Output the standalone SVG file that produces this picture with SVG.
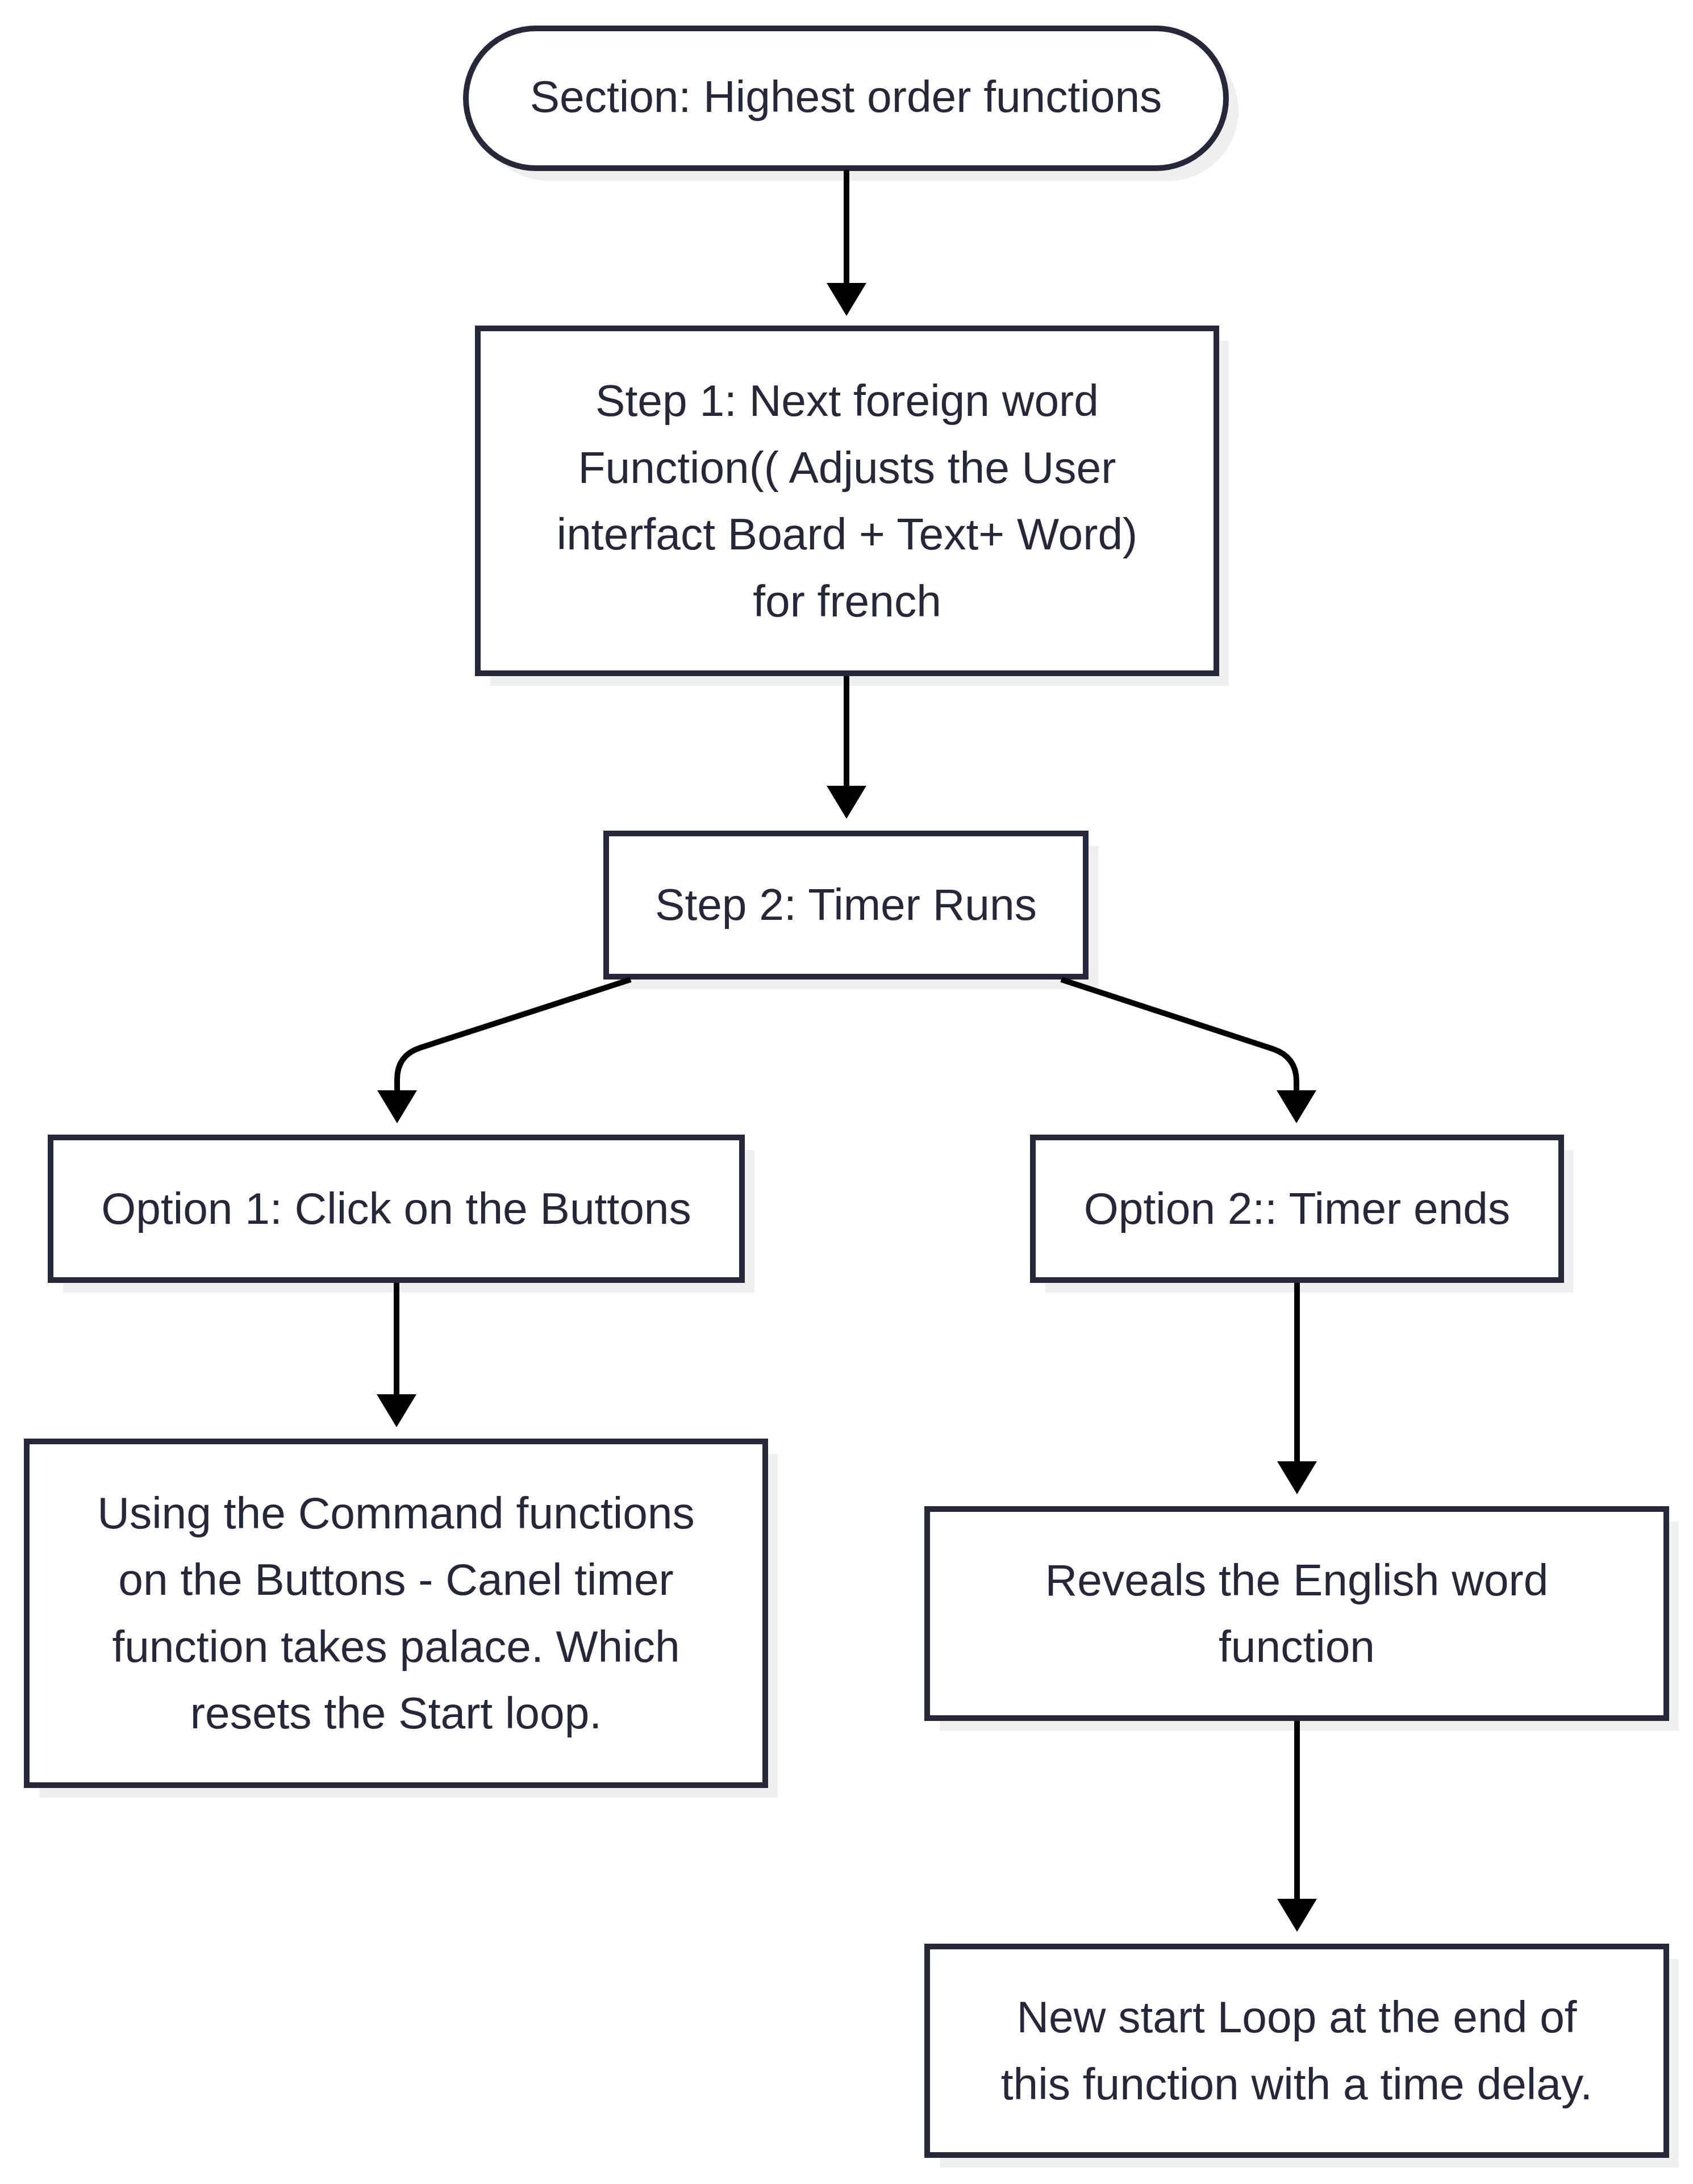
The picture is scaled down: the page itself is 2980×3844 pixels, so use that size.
<svg xmlns="http://www.w3.org/2000/svg" width="2980" height="3844" viewBox="0 0 2980 3844">
<style>
.node{fill:#ffffff;stroke:#27273a;stroke-width:10}
.shadow{fill:#efefef;stroke:none}
.label{font-family:"Liberation Sans",Arial,sans-serif;font-size:78.5px;fill:#27273a;text-anchor:middle}
.edge{fill:none;stroke:#000000;stroke-width:10}
</style>
<defs>
<marker id="arrow" markerUnits="userSpaceOnUse" viewBox="0 0 58 70" refX="0" refY="35" markerWidth="58" markerHeight="70" orient="auto">
<path d="M0,0 L58,35 L0,70 z" fill="#000000"/>
</marker>
</defs>
<rect width="2980" height="3844" fill="#ffffff"/>
<g id="start">
<rect class="shadow" x="842" y="72" width="1338" height="246" rx="123"/>
<rect class="node" x="820" y="50" width="1338" height="246" rx="123"/>
<text class="label" x="1489" y="197">Section: Highest order functions</text>
</g>
<g id="step1">
<rect class="shadow" x="863" y="600" width="1300" height="607"/>
<rect class="node" x="841" y="578" width="1300" height="607"/>
<text class="label" x="1491" y="732">Step 1: Next foreign word</text>
<text class="label" x="1491" y="849.6">Function(( Adjusts the User</text>
<text class="label" x="1491" y="967.2">interfact Board + Text+ Word)</text>
<text class="label" x="1491" y="1084.8">for french</text>
</g>
<g id="step2">
<rect class="shadow" x="1089" y="1489" width="844" height="252"/>
<rect class="node" x="1067" y="1467" width="844" height="252"/>
<text class="label" x="1489" y="1619">Step 2: Timer Runs</text>
</g>
<g id="option1">
<rect class="shadow" x="111" y="2024" width="1217" height="251"/>
<rect class="node" x="89" y="2002" width="1217" height="251"/>
<text class="label" x="697.5" y="2154">Option 1: Click on the Buttons</text>
</g>
<g id="option2">
<rect class="shadow" x="1840" y="2024" width="930" height="251"/>
<rect class="node" x="1818" y="2002" width="930" height="251"/>
<text class="label" x="2283" y="2154">Option 2:: Timer ends</text>
</g>
<g id="cancel">
<rect class="shadow" x="69" y="2559" width="1300" height="605"/>
<rect class="node" x="47" y="2537" width="1300" height="605"/>
<text class="label" x="697" y="2689.6">Using the Command functions</text>
<text class="label" x="697" y="2807.2">on the Buttons - Canel timer</text>
<text class="label" x="697" y="2924.8">function takes palace. Which</text>
<text class="label" x="697" y="3042.4">resets the Start loop.</text>
</g>
<g id="reveal">
<rect class="shadow" x="1654" y="2678" width="1301" height="368"/>
<rect class="node" x="1632" y="2656" width="1301" height="368"/>
<text class="label" x="2282.5" y="2807.7">Reveals the English word</text>
<text class="label" x="2282.5" y="2925.3">function</text>
</g>
<g id="newloop">
<rect class="shadow" x="1654" y="3448" width="1301" height="367"/>
<rect class="node" x="1632" y="3426" width="1301" height="367"/>
<text class="label" x="2282.5" y="3577.2">New start Loop at the end of</text>
<text class="label" x="2282.5" y="3694.8">this function with a time delay.</text>
</g>
<g id="connectors">
<path class="edge" d="M1490,299 L1490,498" marker-end="url(#arrow)"/>
<path class="edge" d="M1490,1190 L1490,1383" marker-end="url(#arrow)"/>
<path class="edge" d="M1110,1724 L740,1844 Q699,1857 699,1900 L699,1919" marker-end="url(#arrow)"/>
<path class="edge" d="M1868,1724 L2240,1846 Q2282,1860 2282,1903 L2282,1919" marker-end="url(#arrow)"/>
<path class="edge" d="M698,2258 L698,2454" marker-end="url(#arrow)"/>
<path class="edge" d="M2283,2258 L2283,2572" marker-end="url(#arrow)"/>
<path class="edge" d="M2283,3029 L2283,3342" marker-end="url(#arrow)"/>
</g>
</svg>
